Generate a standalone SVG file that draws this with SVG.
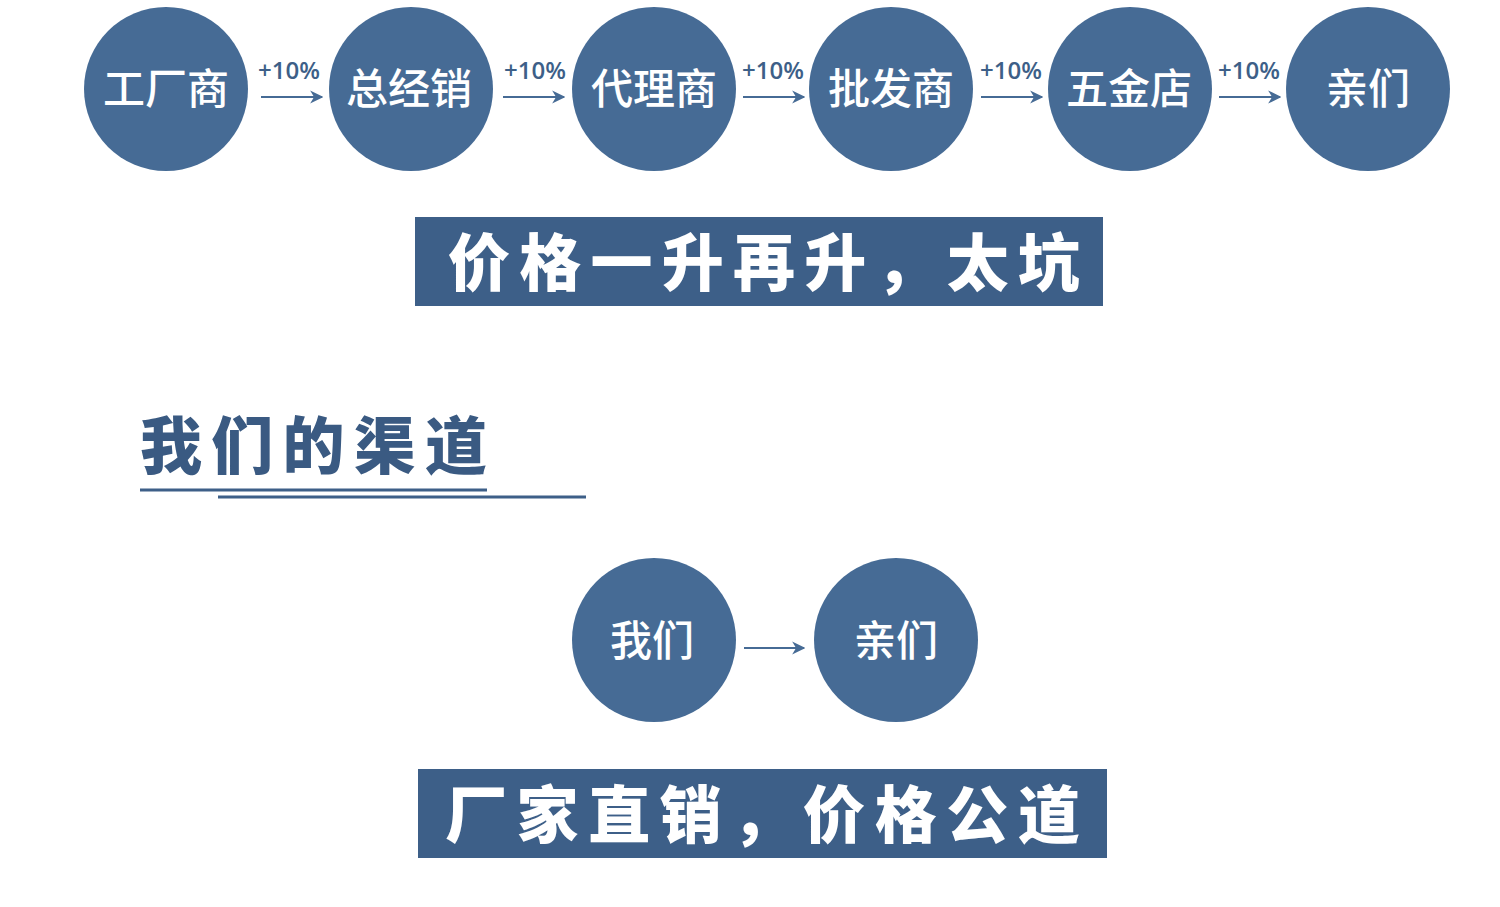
<svg xmlns="http://www.w3.org/2000/svg" width="1500" height="907" viewBox="0 0 1500 907">
<style>
.node{fill:#466b95}
.nt{fill:#fff;font-family:"Noto Sans CJK SC","Noto Sans",sans-serif;font-weight:500;font-size:42px;text-anchor:middle}
.pct{fill:#3d5f88;font-family:"Open Sans","Noto Sans",sans-serif;font-weight:600;font-size:24px;text-anchor:middle}
.conn{stroke:#466b95;stroke-width:2.2;fill:none;marker-end:url(#ah)}
.banner{fill:#3d5f88}
.bt{fill:#fff;font-family:"Noto Sans CJK SC",sans-serif;font-weight:900;font-size:62px}
.head{fill:#3a5a82;font-family:"Noto Sans CJK SC",sans-serif;font-weight:900;font-size:62px}
.ul{stroke:#3d5f88;stroke-width:3}
</style>
<defs>
<marker id="ah" viewBox="0 0 10 10" refX="9" refY="5" markerWidth="6" markerHeight="6" orient="auto" markerUnits="strokeWidth">
<path d="M0,0 L10,5 L0,10 L3,5 Z" fill="#466b95"/>
</marker>
</defs>
<rect width="1500" height="907" fill="#fff"/>

<g id="connectors">
<line class="conn" x1="261" y1="97" x2="322" y2="97"/>
<line class="conn" x1="503" y1="97" x2="564" y2="97"/>
<line class="conn" x1="743" y1="97" x2="804" y2="97"/>
<line class="conn" x1="981" y1="97" x2="1042" y2="97"/>
<line class="conn" x1="1219" y1="97" x2="1280" y2="97"/>
<line class="conn" x1="744" y1="648" x2="804" y2="648"/>
<text class="pct" x="289" y="79">+10%</text>
<text class="pct" x="535" y="79">+10%</text>
<text class="pct" x="773" y="79">+10%</text>
<text class="pct" x="1011" y="79">+10%</text>
<text class="pct" x="1249" y="79">+10%</text>
</g>

<g id="n1"><circle class="node" cx="166" cy="89" r="82"/><text class="nt" x="166" y="104">工厂商</text></g>
<g id="n2"><circle class="node" cx="411" cy="89" r="82"/><text class="nt" x="409" y="104">总经销</text></g>
<g id="n3"><circle class="node" cx="654" cy="89" r="82"/><text class="nt" x="654" y="104">代理商</text></g>
<g id="n4"><circle class="node" cx="891" cy="89" r="82"/><text class="nt" x="891" y="104">批发商</text></g>
<g id="n5"><circle class="node" cx="1130" cy="89" r="82"/><text class="nt" x="1129" y="104">五金店</text></g>
<g id="n6"><circle class="node" cx="1368" cy="89" r="82"/><text class="nt" x="1368" y="104">亲们</text></g>

<g id="banner1"><rect class="banner" x="415" y="217" width="688" height="89"/>
<text class="bt" x="448" y="286" textLength="632" lengthAdjust="spacing">价格一升再升，太坑</text></g>

<g id="heading">
<text class="head" x="140" y="469" textLength="347" lengthAdjust="spacing">我们的渠道</text>
<line class="ul" x1="140" y1="490" x2="487" y2="490"/>
<line class="ul" x1="218" y1="497" x2="586" y2="497"/>
</g>

<g id="n7"><circle class="node" cx="654" cy="640" r="82"/><text class="nt" x="652" y="656">我们</text></g>
<g id="n8"><circle class="node" cx="896" cy="640" r="82"/><text class="nt" x="896" y="656">亲们</text></g>

<g id="banner2"><rect class="banner" x="418" y="769" width="689" height="89"/>
<text class="bt" x="445" y="838" textLength="635" lengthAdjust="spacing">厂家直销，价格公道</text></g>
</svg>
